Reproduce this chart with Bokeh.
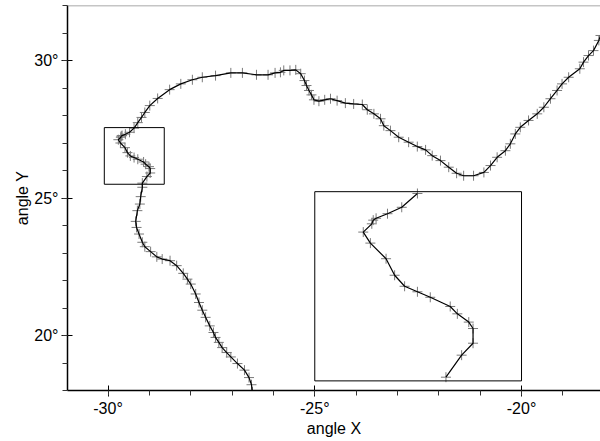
from bokeh.plotting import figure
from bokeh.models import Range1d, BoxAnnotation, Span, SingleIntervalTicker, PrintfTickFormatter
from bokeh.embed import file_html
from bokeh.resources import INLINE

# ---- data: the traced path (angle X, angle Y in degrees), in drawing order ----
x_deg = [
    -26.51, -26.53, -26.59, -26.70, -26.87, -27.03, -27.13, -27.24, -27.32, -27.40,
    -27.45, -27.54, -27.64, -27.72, -27.80, -27.88, -28.00, -28.08, -28.18, -28.34,
    -28.50, -28.69, -28.82, -28.97, -29.11, -29.17, -29.25, -29.31, -29.33, -29.29,
    -29.23, -29.21, -29.17, -29.17, -29.06, -28.98, -28.98, -29.01, -29.09, -29.14,
    -29.28, -29.37, -29.46, -29.53, -29.59, -29.70, -29.75, -29.69, -29.68, -29.66,
    -29.58, -29.48, -29.37, -29.28, -29.19, -29.11, -28.99, -28.80, -28.51, -28.24,
    -27.96, -27.72, -27.40, -27.03, -26.75, -26.41, -26.13, -25.96, -25.83, -25.75,
    -25.60, -25.46, -25.34, -25.25, -25.20, -25.14, -25.08, -25.02, -24.90, -24.76,
    -24.62, -24.46, -24.26, -24.06, -23.85, -23.73, -23.57, -23.41, -23.33, -23.17,
    -22.97, -22.73, -22.52, -22.32, -22.16, -21.96, -21.76, -21.57, -21.40, -21.16,
    -20.91, -20.75, -20.59, -20.39, -20.27, -20.15, -20.03, -19.83, -19.62, -19.46,
    -19.30, -19.14, -19.02, -18.86, -18.59, -18.50, -18.38, -18.26, -18.13, -18.09,
    -17.95,
]
y_deg = [
    17.95, 18.21, 18.47, 18.74, 18.98, 19.22, 19.38, 19.56, 19.75, 19.93,
    20.11, 20.35, 20.66, 20.92, 21.20, 21.51, 21.87, 22.05, 22.26, 22.54,
    22.72, 22.78, 22.86, 23.05, 23.23, 23.39, 23.69, 23.93, 24.15, 24.54,
    24.78, 25.05, 25.39, 25.54, 25.78, 25.91, 26.07, 26.14, 26.23, 26.31,
    26.41, 26.47, 26.53, 26.65, 26.83, 27.00, 27.12, 27.21, 27.25, 27.27,
    27.32, 27.39, 27.54, 27.74, 27.93, 28.11, 28.36, 28.62, 28.94, 29.15,
    29.30, 29.39, 29.45, 29.55, 29.55, 29.48, 29.48, 29.55, 29.57, 29.64,
    29.64, 29.66, 29.52, 29.27, 29.09, 28.91, 28.75, 28.57, 28.52, 28.57,
    28.61, 28.54, 28.45, 28.42, 28.40, 28.21, 28.06, 27.88, 27.63, 27.45,
    27.21, 27.03, 26.87, 26.75, 26.54, 26.36, 26.12, 25.90, 25.81, 25.81,
    25.93, 26.18, 26.48, 26.72, 26.97, 27.33, 27.57, 27.82, 28.06, 28.30,
    28.61, 28.91, 29.15, 29.39, 29.70, 29.94, 30.18, 30.36, 30.73, 30.91,
    31.15,
]

# zoom region (small box) and where its magnified view is placed (inset)
zoom_x = (-30.09, -28.64)
zoom_y = (25.50, 27.56)
inset_x = (-25.0, -20.0)
inset_y = (18.35, 25.23)

x_view = (-30.98, -18.09)
y_view = (18.0, 32.0)
tick_interval = 5

FONT = "Liberation Sans"

p = figure(width=600, height=441,
           x_range=Range1d(*x_view), y_range=Range1d(*y_view),
           output_backend="svg", toolbar_location=None,
           min_border_left=67, min_border_right=0, min_border_top=5, min_border_bottom=51,
           x_axis_label="angle X", y_axis_label="angle Y")
p.outline_line_color = None
p.grid.visible = False
p.background_fill_color = "white"
p.border_fill_color = "white"

for ax in (p.xaxis[0], p.yaxis[0]):
    ax.ticker = SingleIntervalTicker(interval=tick_interval, num_minor_ticks=5)
    ax.formatter = PrintfTickFormatter(format="%d°")
    ax.major_tick_in = 5
    ax.major_tick_out = 6
    ax.minor_tick_in = 0
    ax.minor_tick_out = 5
    ax.axis_line_width = 1.5
    ax.axis_line_color = "black"
    ax.major_tick_line_color = "black"
    ax.minor_tick_line_color = "#333333"
    ax.major_label_text_font = FONT
    ax.major_label_text_font_size = "16px"
    ax.major_label_text_color = "black"
    ax.major_label_standoff = 3
    ax.axis_label_text_font = FONT
    ax.axis_label_text_font_size = "16px"
    ax.axis_label_text_font_style = "normal"
    ax.axis_label_text_color = "black"
    ax.axis_label_standoff = 0

p.add_layout(Span(location=y_view[1], dimension="width", line_color="#8c8c8c", line_width=1.5))

MARK = "#7a7a7a"
p.scatter(x_deg, y_deg, marker="cross", size=10, line_color=MARK, line_width=1)
p.line(x_deg, y_deg, line_color="black", line_width=1.2)

# small zoom box
p.add_layout(BoxAnnotation(left=zoom_x[0], right=zoom_x[1], bottom=zoom_y[0], top=zoom_y[1],
                           fill_color=None, line_color="black", line_width=1, line_alpha=1))
# inset frame
p.add_layout(BoxAnnotation(left=inset_x[0], right=inset_x[1], bottom=inset_y[0], top=inset_y[1],
                           fill_color=None, line_color="black", line_width=1, line_alpha=1))

# magnified view of the zoom box, mapped into the inset
inside = [(x, y) for x, y in zip(x_deg, y_deg)
          if zoom_x[0] <= x <= zoom_x[1] and zoom_y[0] <= y <= zoom_y[1]]
xi = [a for a, _ in inside]
yi = [b for _, b in inside]
sub = p.subplot(x_source=Range1d(*zoom_x), y_source=Range1d(*zoom_y),
                x_target=Range1d(*inset_x), y_target=Range1d(*inset_y))
sub.scatter(xi, yi, marker="cross", size=10, line_color=MARK, line_width=1)
sub.line(xi, yi, line_color="black", line_width=1.2)

open("out.html", "w").write(file_html(p, INLINE))
